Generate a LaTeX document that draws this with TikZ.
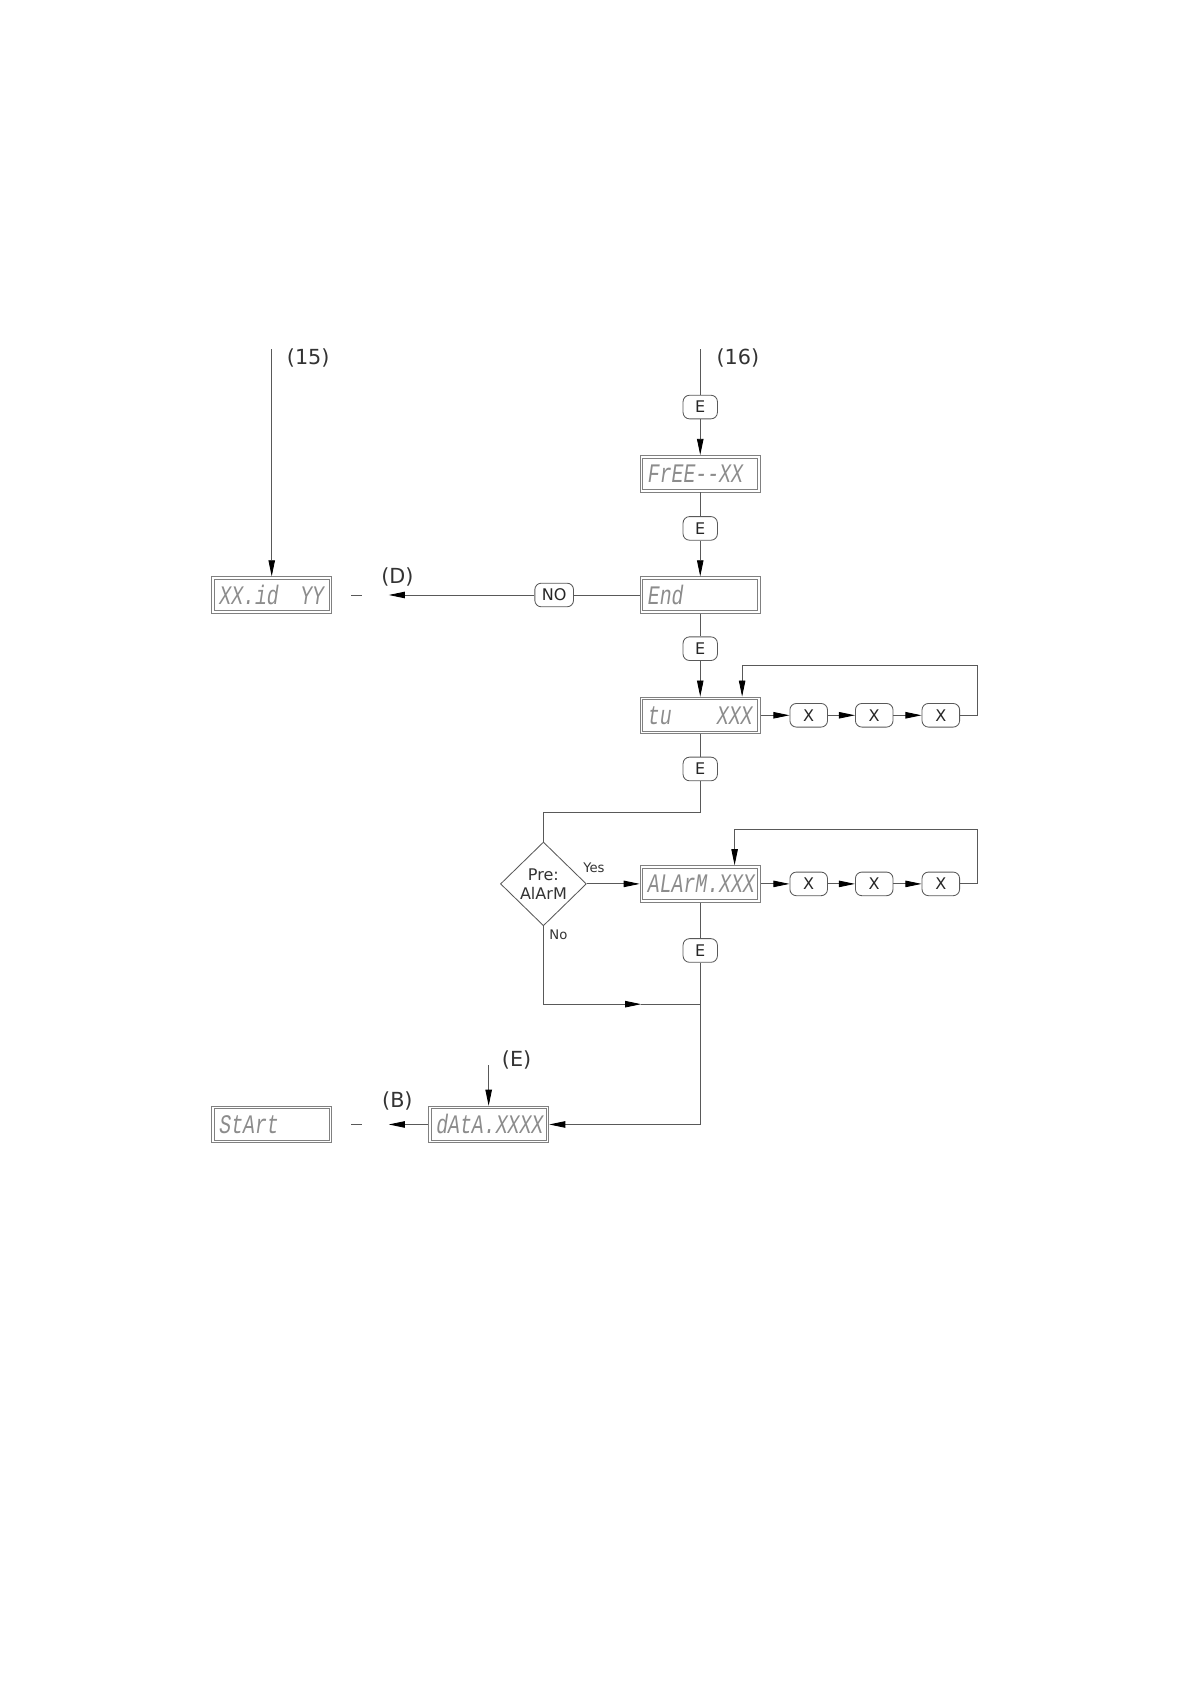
\documentclass[tikz,border=0pt]{standalone}
\usepackage{fontspec}
\usepackage{graphicx}
\setmainfont{DejaVu Sans}
\newfontfamily\segfont{Liberation Mono}
\usetikzlibrary{arrows.meta,shapes.geometric}
\newcommand{\innerbox}[1]{\draw[draw=black!50, line width=0.4pt] ([shift={(1.6pt,-1.6pt)}]#1.north west) rectangle ([shift={(-1.6pt,1.6pt)}]#1.south east);}
\newcommand{\segtext}[1]{\scalebox{1}[1.35]{\makebox[1.95cm][l]{#1}}}
\begin{document}
\begin{tikzpicture}[x=0.02cm,y=-0.02cm,
  line/.style={draw=black!65, line width=0.45pt},
  arr/.style={line, -{Triangle[length=0.3cm,width=0.12cm,color=black]}},
  disp/.style={draw=black!50, line width=0.4pt,
    minimum width=2.24cm, minimum height=0.68cm, inner sep=0pt,
    font=\segfont\itshape\fontsize{10.5}{10.5}\selectfont, text=black!45},
  key/.style={draw=black!65, rounded corners=0.12cm, minimum width=0.64cm,
    minimum height=0.44cm, inner sep=1pt, line width=0.45pt,
    font=\fontsize{8.5}{9}\selectfont, text=black!85},
  lbl/.style={font=\fontsize{11}{12}\selectfont, text=black!80},
  small/.style={font=\fontsize{7}{8}\selectfont, text=black!80}
]
\useasboundingbox (0,0) rectangle (1108,1568);

% left column
\coordinate (c15) at (253,325);
\node[lbl] (l15) at (287,333) {(15)};
\node[disp] (xxid) at (253,554) {\segtext{XX.id\hfill YY}};
\innerbox{xxid}
\coordinate (dD1) at (327,554);
\coordinate (dD2) at (337,554);
\coordinate (tipD) at (362,554);
\node[lbl] (lD) at (370,537) {(D)};

% right column
\coordinate (c16) at (652,325);
\node[lbl] (l16) at (687,333) {(16)};
\node[key] (E1) at (652,379) {E};
\node[disp] (free) at (652,441) {\segtext{FrEE--XX}};
\innerbox{free}
\node[key] (E2) at (652,492) {E};
\node[disp] (end) at (652,554) {\segtext{End}};
\innerbox{end}
\node[key, minimum width=0.72cm] (no) at (516,554) {NO};
\node[key] (E3) at (652,604) {E};
\node[disp] (tu) at (652,666) {\segtext{tu\hfill XXX}};
\innerbox{tu}
\node[key, minimum width=0.7cm] (X1) at (753,666) {X};
\node[key, minimum width=0.7cm] (X2) at (814,666) {X};
\node[key, minimum width=0.7cm] (X3) at (876,666) {X};
\coordinate (lp1) at (910,666);
\coordinate (lp2) at (910,620);
\coordinate (lp3) at (691,620);
\node[key] (E4) at (652,716) {E};
\coordinate (j1) at (652,756);
\coordinate (j2) at (506,756);

\node[diamond, draw=black!65, line width=0.45pt, minimum width=1.6cm, minimum height=1.56cm,
  inner sep=0pt, align=center, font=\fontsize{8.5}{10}\selectfont, text=black!80] (dia) at (506,823) {Pre:\\AlArM};
\node[small] (yes) at (553,808) {Yes};
\node[small] (nolbl) at (520,870) {No};

\node[disp] (alarm) at (652,823) {\segtext{ALArM.XXX}};
\innerbox{alarm}
\node[key, minimum width=0.7cm] (Y1) at (753,823) {X};
\node[key, minimum width=0.7cm] (Y2) at (814,823) {X};
\node[key, minimum width=0.7cm] (Y3) at (876,823) {X};
\coordinate (lq1) at (910,823);
\coordinate (lq2) at (910,772);
\coordinate (lq3) at (684,772);

\node[key] (E5) at (652,885) {E};
\coordinate (n1) at (506,935);
\coordinate (n2) at (597,935);
\coordinate (n3) at (652,935);
\coordinate (n4) at (652,1047);

\node[disp] (data) at (455,1047) {\segtext{dAtA.XXXX}};
\innerbox{data}
\coordinate (eTop) at (455,992);
\node[lbl] (lE) at (481,987) {(E)};
\coordinate (tipB) at (362,1047);
\node[lbl] (lB) at (370,1025) {(B)};
\coordinate (dB1) at (327,1047);
\coordinate (dB2) at (337,1047);
\node[disp] (start) at (253,1047) {\segtext{StArt}};
\innerbox{start}

% connectors
\draw[arr] (c15) -- (xxid.north);
\draw[line] (dD1) -- (dD2);
\draw[line] (c16) -- (E1.north);
\draw[arr] (E1.south) -- (free.north);
\draw[line] (free.south) -- (E2.north);
\draw[arr] (E2.south) -- (end.north);
\draw[line] (end.west) -- (no.east);
\draw[arr] (no.west) -- (tipD);
\draw[line] (end.south) -- (E3.north);
\draw[arr] (E3.south) -- (tu.north);
\draw[arr] (tu.east) -- (X1.west);
\draw[arr] (X1.east) -- (X2.west);
\draw[arr] (X2.east) -- (X3.west);
\draw[arr] (X3.east) -- (lp1) -- (lp2) -- (lp3) -- (lp3 |- tu.north);
\draw[line] (tu.south) -- (E4.north);
\draw[line] (E4.south) -- (j1) -- (j2) -- (dia.north);
\draw[arr] (dia.east) -- (alarm.west);
\draw[arr] (alarm.east) -- (Y1.west);
\draw[arr] (Y1.east) -- (Y2.west);
\draw[arr] (Y2.east) -- (Y3.west);
\draw[arr] (Y3.east) -- (lq1) -- (lq2) -- (lq3) -- (lq3 |- alarm.north);
\draw[line] (alarm.south) -- (E5.north);
\draw[arr] (dia.south) -- (n1) -- (n2);
\draw[line] (n2) -- (n3);
\draw[arr] (E5.south) -- (n4) -- (data.east);
\draw[arr] (eTop) -- (data.north);
\draw[arr] (data.west) -- (tipB);
\draw[line] (dB1) -- (dB2);
\end{tikzpicture}
\end{document}
